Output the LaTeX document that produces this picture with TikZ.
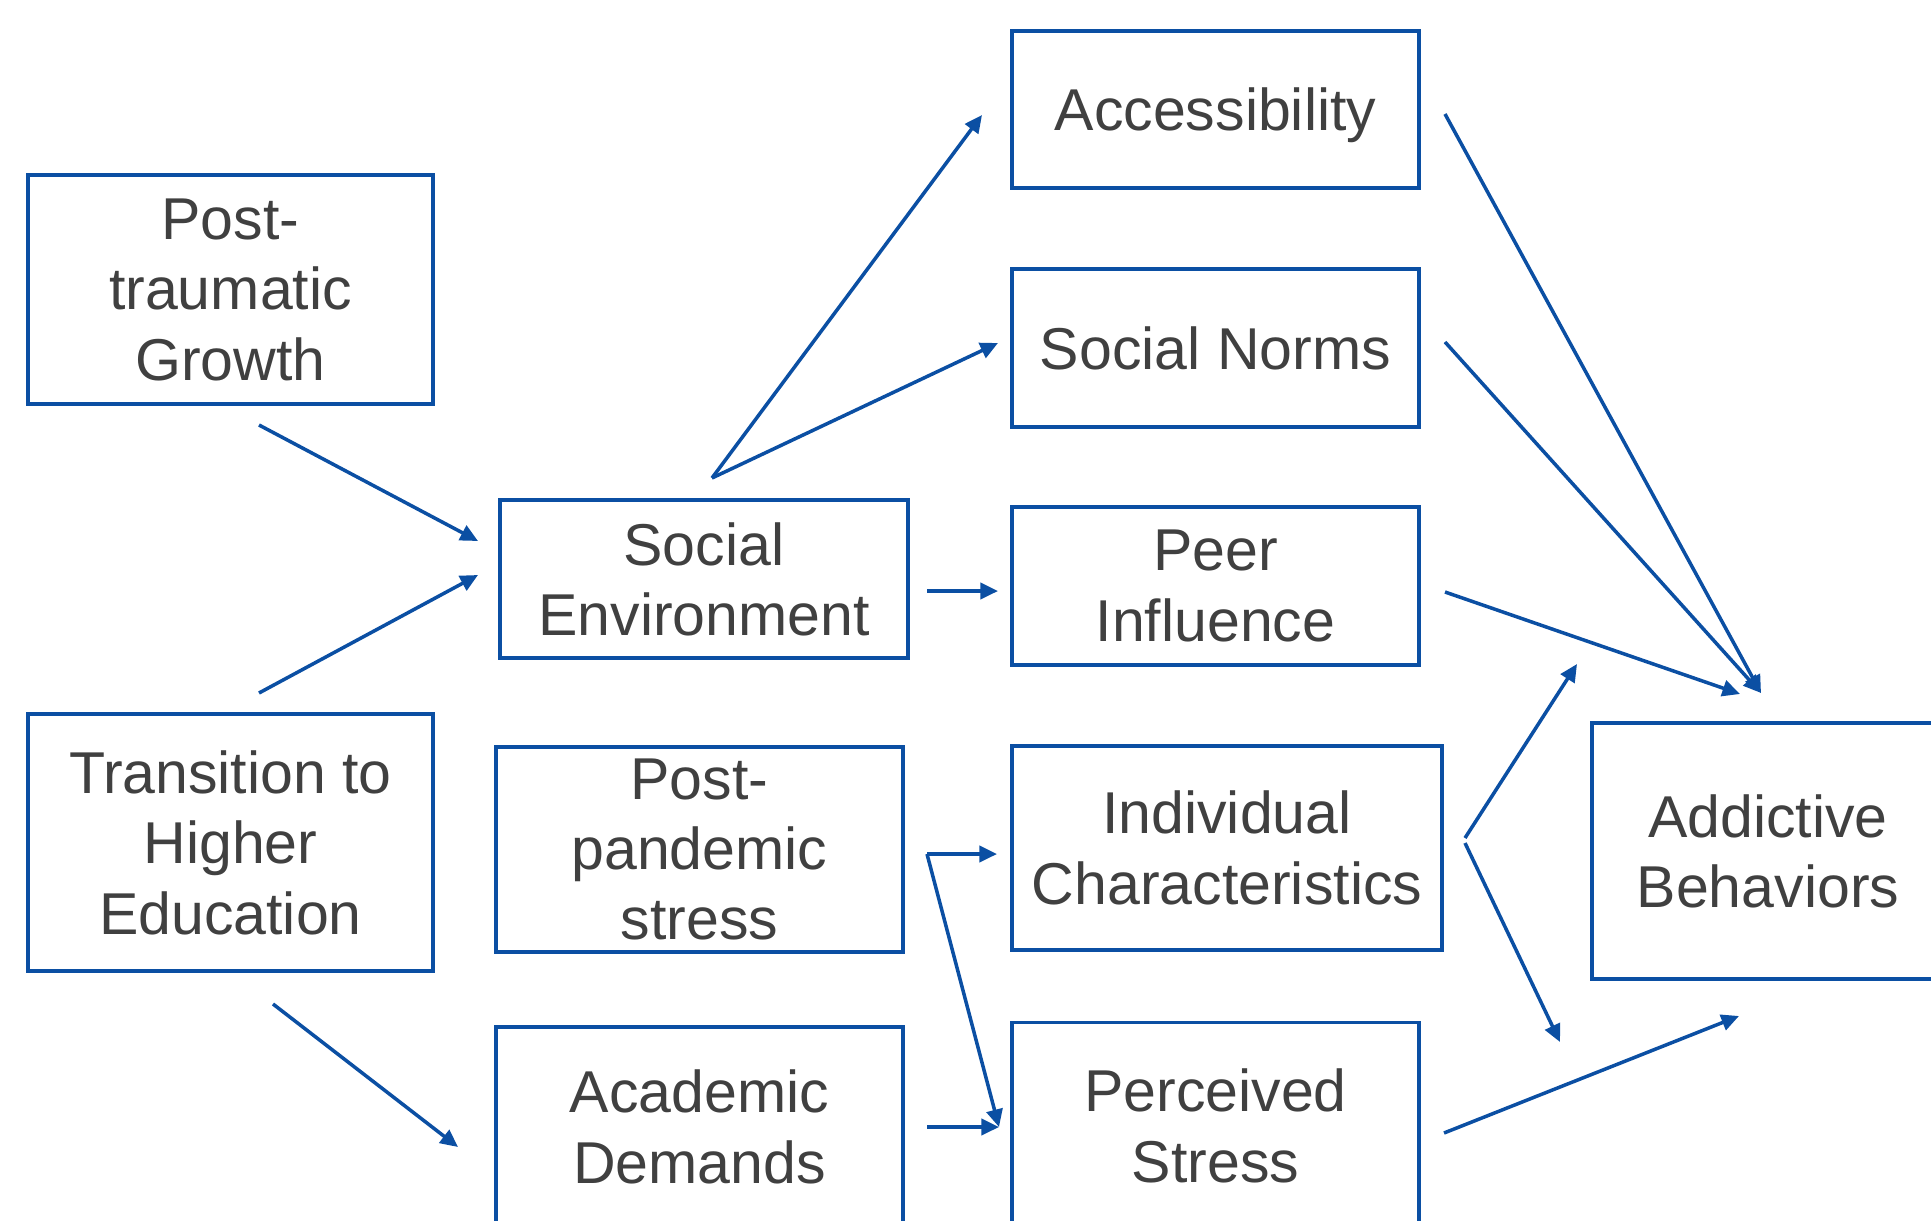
\documentclass[tikz,border=0pt]{standalone}
\usepackage{fontspec}
\setmainfont{Liberation Sans}
\usepackage{xcolor}
\usepackage{tikz}
\usetikzlibrary{arrows.meta,positioning}
\definecolor{edgeblue}{HTML}{0B4FA3}
\definecolor{inkgray} {HTML}{404040}

\begin{document}
\begin{tikzpicture}[
        box/.style={rectangle,draw=edgeblue,line width=1.1pt,
                    text=inkgray,font=\fontsize{16.8}{20}\selectfont,
                    align=center,text depth=0pt,
                    minimum width=4.07cm,minimum height=1.58cm,
                    inner sep=2pt},
        arr/.style={-{Triangle[length=5pt,width=4.6pt]},edgeblue,line width=1pt},
        node distance=0.8cm]
        \useasboundingbox (0,0) rectangle (19.31,-12.21);
        \node[box,minimum width=4.05cm,minimum height=2.29cm] (ptg) at (2.305,-2.895) {Post-\\traumatic\\Growth};
        \node[box,minimum width=4.05cm,minimum height=2.57cm,below=3.06cm of ptg] (trans) {Transition to\\Higher\\Education};
        \node[box,minimum width=4.08cm] (socenv) at (7.04,-5.79) {Social\\Environment};
        \node[box,minimum height=2.05cm,below=0.85cm of socenv,xshift=-0.045cm] (pandem) {Post-\\pandemic\\stress};
        \node[box,minimum height=2.0cm,below=0.71cm of pandem] (acad) {Academic\\Demands};
        \node[box,minimum height=1.57cm] (access) at (12.155,-1.095) {Accessibility};
        \node[box,below=0.77cm of access] (norms) {Social Norms};
        \node[box,below=0.76cm of norms] (peer) {Peer\\Influence};
        \node[box,minimum width=4.30cm,minimum height=2.04cm,
              below=0.77cm of peer.south west,anchor=north west] (indiv) {Individual\\Characteristics};
        \node[box,minimum height=2.06cm,
              below=0.69cm of indiv.south west,anchor=north west] (pstress) {Perceived\\Stress};
        \node[box,minimum width=3.52cm,minimum height=2.56cm] (addict) at (17.68,-8.51) {Addictive\\Behaviors};

        \coordinate (ptg-out)   at (2.59,-4.25);
        \coordinate (trans-up)  at (2.59,-6.93);
        \coordinate (trans-dn)  at (2.73,-10.04);
        \coordinate (socenv-a)  at (4.78,-5.41);
        \coordinate (socenv-b)  at (4.78,-5.75);
        \coordinate (socenv-top) at (7.12,-4.78);
        \coordinate (socenv-out) at (9.27,-5.91);
        \coordinate (acad-in)   at (4.58,-11.47);
        \coordinate (acad-out)  at (9.27,-11.27);
        \coordinate (pandem-out) at (9.27,-8.54);
        \coordinate (access-in) at (9.82,-1.15);
        \coordinate (norms-in)  at (9.98,-3.43);
        \coordinate (peer-in)   at (9.98,-5.91);
        \coordinate (indiv-in)  at (9.97,-8.54);
        \coordinate (pstress-in) at (9.99,-11.27);
        \coordinate (access-out) at (14.45,-1.14);
        \coordinate (norms-out) at (14.45,-3.42);
        \coordinate (peer-out)  at (14.45,-5.92);
        \coordinate (indiv-out-a) at (14.65,-8.38);
        \coordinate (indiv-out-b) at (14.65,-8.43);
        \coordinate (indiv-up)  at (15.77,-6.64);
        \coordinate (indiv-dn)  at (15.60,-10.42);
        \coordinate (pstress-out) at (14.44,-11.33);
        \coordinate (addict-a)  at (17.61,-6.93);
        \coordinate (addict-b)  at (17.40,-6.94);
        \coordinate (addict-c)  at (17.39,-10.16);

        \draw[arr] (ptg-out)--(socenv-a);
        \draw[arr] (trans-up)--(socenv-b);
        \draw[arr] (trans-dn)--(acad-in);
        \draw[arr] (socenv-top)--(access-in);
        \draw[arr] (socenv-top)--(norms-in);
        \draw[arr] (socenv-out)--(peer-in);
        \draw[arr] (pandem-out)--(indiv-in);
        \draw[arr] (pandem-out)--(pstress-in);
        \draw[arr] (acad-out)--(pstress-in);
        \draw[arr] (access-out)--(addict-a);
        \draw[arr] (norms-out)--(addict-a);
        \draw[arr] (peer-out)--(addict-b);
        \draw[arr] (indiv-out-a)--(indiv-up);
        \draw[arr] (indiv-out-b)--(indiv-dn);
        \draw[arr] (pstress-out)--(addict-c);
      \end{tikzpicture}
\end{document}
